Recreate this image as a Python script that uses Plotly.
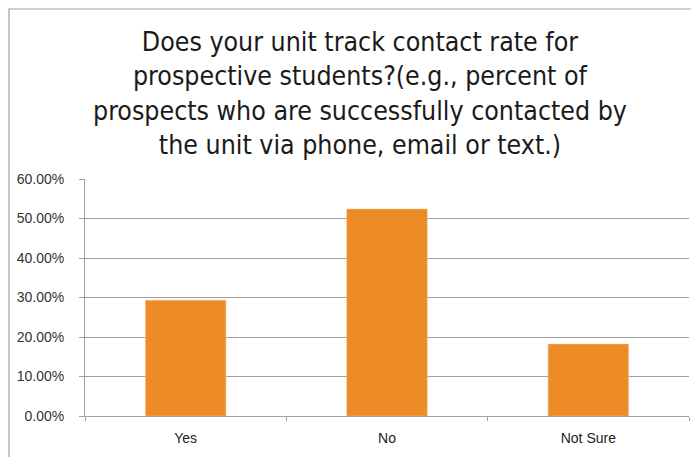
import plotly.graph_objects as go

categories = ["Yes", "No", "Not Sure"]
shares = [0.293, 0.524, 0.182]
y_ticks = [0, 0.1, 0.2, 0.3, 0.4, 0.5, 0.6]

title_text = ("Does your unit track contact rate for<br>"
              "prospective students?(e.g., percent of<br>"
              "prospects who are successfully contacted by<br>"
              "the unit via phone, email or text.)")

fig = go.Figure()

fig.add_trace(
    go.Bar(
        x=categories,
        y=shares,
        marker=dict(color="#ED8B26", line=dict(color="#F6C08A", width=0.5)),
        hoverinfo="x+y",
    )
)

# the page body has an 8px margin, so the figure is a bit smaller than the window
fig.update_layout(
    width=691,
    height=449,
    margin=dict(l=77, r=10, t=171, b=41),
    paper_bgcolor="white",
    plot_bgcolor="white",
    showlegend=False,
    bargap=0.6,
    annotations=[
        dict(
            text=title_text,
            xref="paper", yref="paper",
            x=0.455, y=1.361,
            xanchor="center", yanchor="middle",
            showarrow=False,
            align="center",
            font=dict(family="Liberation Sans Narrow, DejaVu Sans Condensed", size=26.5, color="#1a1a1a"),
        )
    ],
    shapes=[
        dict(type="rect", xref="paper", yref="paper",
             x0=-0.1258, x1=1.5, y0=-0.5, y1=1.7173,
             line=dict(color="#A0A0A0", width=1.2), fillcolor="rgba(0,0,0,0)",
             layer="below"),
    ],
)

fig.update_yaxes(
    range=[0, 0.6],
    tickvals=y_ticks,
    tickformat=".2%",
    showgrid=True,
    gridcolor="#A0A0A0",
    gridwidth=1,
    showline=True,
    linecolor="#A0A0A0",
    ticks="outside",
    ticklen=5,
    tickcolor="#A0A0A0",
    ticklabelstandoff=12,
    zeroline=False,
    tickfont=dict(family="Liberation Sans", size=14, color="#333333"),
)

fig.update_xaxes(
    showline=True,
    linecolor="#A0A0A0",
    ticks="outside",
    tickson="boundaries",
    ticklen=4,
    tickcolor="#A0A0A0",
    ticklabelstandoff=9,
    tickfont=dict(family="Liberation Sans", size=14, color="#222222"),
)

fig.write_html("out.html")
